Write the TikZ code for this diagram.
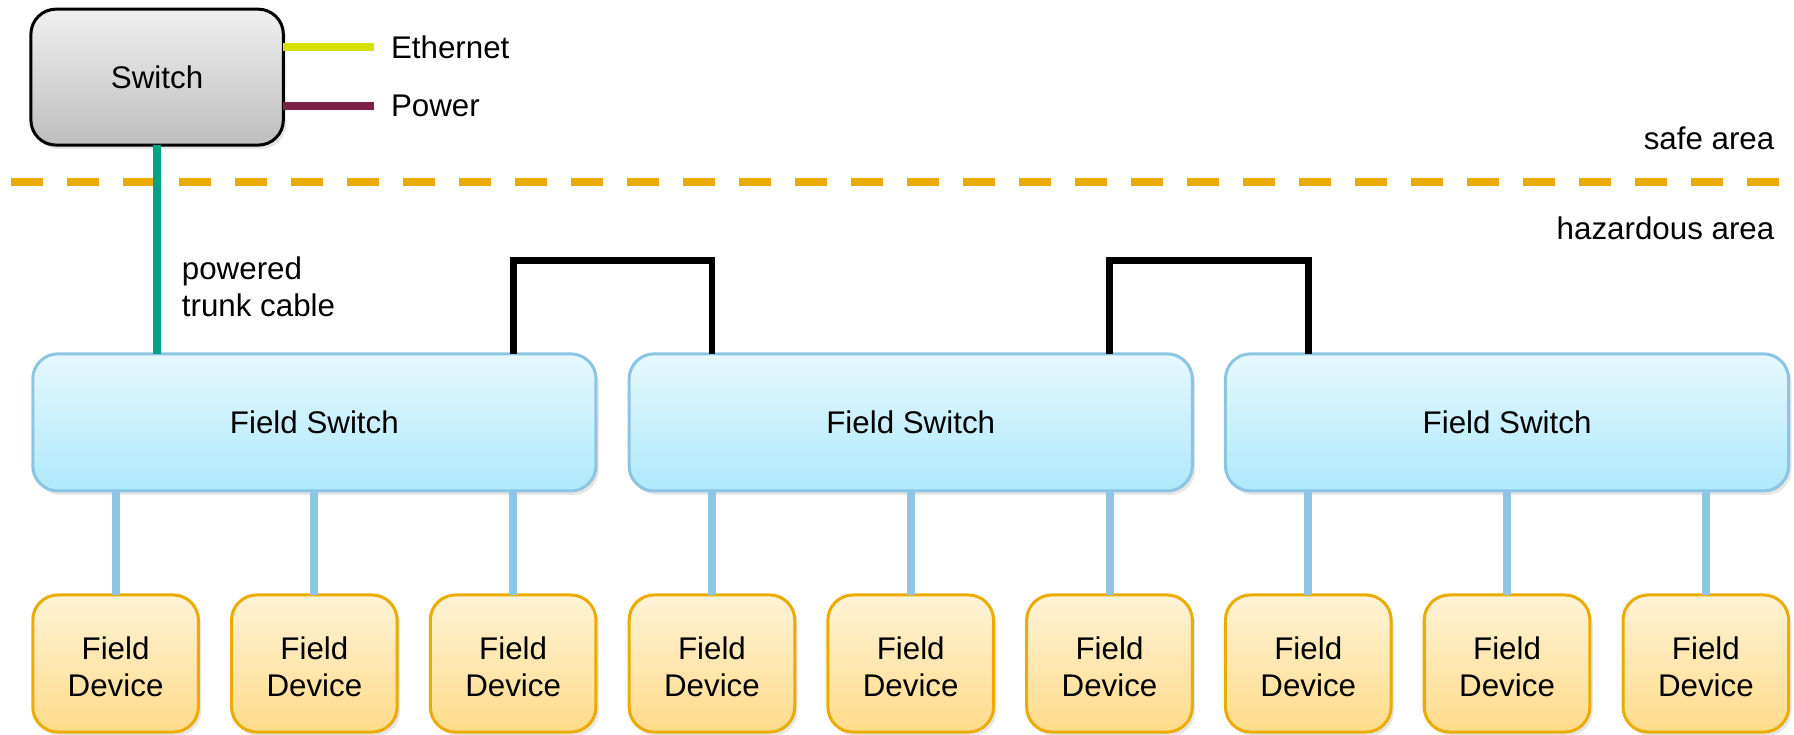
\documentclass[tikz,border=0pt]{standalone}
\usepackage{fontspec}
\setmainfont{Liberation Sans}
\usepackage{tikz}
\usetikzlibrary{matrix,shadows}

\definecolor{swtop}{HTML}{F0F0F0}
\definecolor{swbot}{HTML}{BEBEBE}
\definecolor{fstop}{HTML}{E6F8FE}
\definecolor{fsbot}{HTML}{AEE9FB}
\definecolor{fsline}{HTML}{8CC4E3}
\definecolor{fdtop}{HTML}{FFF3D6}
\definecolor{fdbot}{HTML}{FDDB8A}
\definecolor{fdline}{HTML}{EBAB00}
\definecolor{dropline}{HTML}{8DC6E5}
\definecolor{trunkline}{HTML}{00A383}
\definecolor{ethline}{HTML}{D3E000}
\definecolor{powline}{HTML}{7B2145}
\definecolor{zonecol}{HTML}{EBAB00}

\newcommand{\fdtext}{\raisebox{-0.12cm}[\height][\depth]{\begin{tabular}{@{}c@{}}Field\\Device\end{tabular}}}

\tikzset{
	every node/.style={font=\fontsize{15.6}{18.5}\selectfont},
	roundbox/.style={rounded corners=0.44cm,line width=1.5pt,outer sep=0pt,
		drop shadow={opacity=0.2,shadow xshift=0.05cm,shadow yshift=-0.07cm}},
	switchbox/.style={roundbox,draw=black,top color=swtop,bottom color=swbot,
		minimum width=4.42cm,minimum height=2.38cm},
	fieldswitch/.style={roundbox,draw=fsline,top color=fstop,bottom color=fsbot,
		minimum width=9.86cm,minimum height=2.4cm},
	fielddevice/.style={roundbox,draw=fdline,top color=fdtop,bottom color=fdbot,
		minimum width=2.9cm,minimum height=2.4cm},
	dropline/.style={line width=4pt,draw=dropline},
	ringline/.style={line width=3.4pt,draw=black},
	trunkline/.style={line width=4pt,draw=trunkline},
	zoneline/.style={line width=4pt,draw=zonecol,dash pattern=on 0.56cm off 0.42cm},
}

\begin{document}
\begin{tikzpicture}[x=0.02cm,y=-0.02cm]
	\useasboundingbox (0,0) rectangle (1570,643);

	\node[switchbox] (Sw) at (137.5,67.5) {Switch};
	\node[anchor=west] (Eth) at (336,41) {Ethernet};
	\node[anchor=west] (Pow) at (336,93) {Power};
	\draw[line width=4pt,draw=ethline,shorten >=0.18cm] (Sw.east |- Eth) -- (Eth.west);
	\draw[line width=4pt,draw=powline,shorten >=0.18cm] (Sw.east |- Pow) -- (Pow.west);

	\node[anchor=east] (Safe) at (1559,121) {safe area};
	\node[anchor=east] (Haz) at (1559,200) {hazardous area};
	\coordinate (Z1) at (10,159);
	\coordinate (Z2) at (1558,159);
	\draw[zoneline] (Z1) -- (Z2);

	\matrix [matrix of nodes,column sep=0.58cm-1.5pt,inner sep=0pt,anchor=north west,
	nodes={fieldswitch},
	] (F) at (27,308)
	{
	Field Switch & Field Switch & Field Switch\\
	};

	\matrix [matrix of nodes,column sep=0.58cm-1.5pt,inner sep=0pt,anchor=north west,
	nodes={fielddevice},
	] (D) at (27,519)
	{
	\fdtext & \fdtext & \fdtext & \fdtext & \fdtext & \fdtext & \fdtext & \fdtext & \fdtext\\
	};

	\draw[trunkline] (Sw.south) -- (Sw.south |- F-1-1.north);
	\node[anchor=west,align=left] (Trunk) at (153,251) {powered\\trunk cable};

	\draw[ringline] (F-1-1.north -| D-1-3) -- ++(0,-82) -| (F-1-2.north -| D-1-4);
	\draw[ringline] (F-1-2.north -| D-1-6) -- ++(0,-82) -| (F-1-3.north -| D-1-7);

	\draw[dropline] (F-1-1.south -| D-1-1) -- (D-1-1.north);
	\draw[dropline] (F-1-1.south -| D-1-2) -- (D-1-2.north);
	\draw[dropline] (F-1-1.south -| D-1-3) -- (D-1-3.north);
	\draw[dropline] (F-1-2.south -| D-1-4) -- (D-1-4.north);
	\draw[dropline] (F-1-2.south -| D-1-5) -- (D-1-5.north);
	\draw[dropline] (F-1-2.south -| D-1-6) -- (D-1-6.north);
	\draw[dropline] (F-1-3.south -| D-1-7) -- (D-1-7.north);
	\draw[dropline] (F-1-3.south -| D-1-8) -- (D-1-8.north);
	\draw[dropline] (F-1-3.south -| D-1-9) -- (D-1-9.north);
\end{tikzpicture}
\end{document}
